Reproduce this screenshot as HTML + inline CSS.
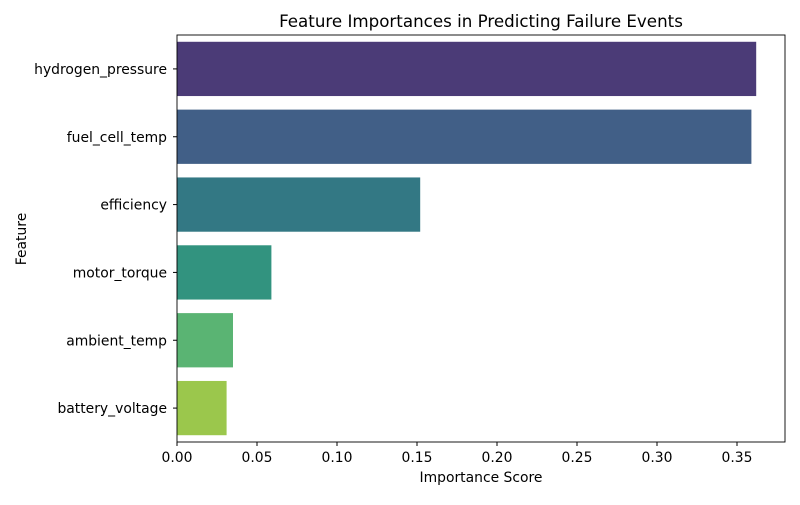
<!DOCTYPE html>
<html><head><meta charset="utf-8"><style>
body{margin:0;background:#fff;font-family:"Liberation Sans","DejaVu Sans",sans-serif;}
svg text{font-family:"DejaVu Sans","Liberation Sans",sans-serif;fill:#000;}
</style></head><body>
<svg id="chart" width="800" height="500" xmlns="http://www.w3.org/2000/svg">
<rect width="800" height="500" fill="#fff"/>
<text x="481" y="27" font-size="16.7" text-anchor="middle">Feature Importances in Predicting Failure Events</text>
<g id="bars"></g>
<g id="yticks"></g>
<g id="xticks"></g>
<rect x="177" y="35" width="608" height="407" fill="none" stroke="#000" stroke-width="0.9"/>
<text x="481" y="482" font-size="13.9" text-anchor="middle">Importance Score</text>
<text x="26" y="239" font-size="13.9" text-anchor="middle" transform="rotate(-90 26 239)">Feature</text>
</svg>
<script>
const features=["hydrogen_pressure","fuel_cell_temp","efficiency","motor_torque","ambient_temp","battery_voltage"];
const importances=[0.362,0.359,0.152,0.059,0.035,0.031];
const barColors=["#4b3b77","#415f87","#337884","#32937f","#5ab473","#9bc74c"];
const xTicks=[0,0.05,0.10,0.15,0.20,0.25,0.30,0.35];
const xTickLabels=["0.00","0.05","0.10","0.15","0.20","0.25","0.30","0.35"];
{
const NS="http://www.w3.org/2000/svg";
const x0=177,pxPerUnit=1600,plotTop=35,plotBottom=442;
const band=(plotBottom-plotTop)/features.length;
const xs=v=>x0+v*pxPerUnit;
const yc=i=>plotTop+band*(i+0.5);
const bars=document.getElementById('bars'),yt=document.getElementById('yticks'),xt=document.getElementById('xticks');
features.forEach((f,i)=>{
 const r=document.createElementNS(NS,'rect');
 r.setAttribute('x',xs(0));r.setAttribute('y',yc(i)-band*0.4);
 r.setAttribute('width',xs(importances[i])-xs(0));r.setAttribute('height',band*0.8);
 r.setAttribute('fill',barColors[i]);
 
 
 bars.appendChild(r);
 const l=document.createElementNS(NS,'line');
 l.setAttribute('x1',x0-4);l.setAttribute('x2',x0);l.setAttribute('y1',yc(i));l.setAttribute('y2',yc(i));l.setAttribute('stroke','#000');
 yt.appendChild(l);
 const t=document.createElementNS(NS,'text');
 t.setAttribute('x',x0-10);t.setAttribute('y',yc(i)+5);t.setAttribute('font-size','13.9');t.setAttribute('text-anchor','end');
 t.textContent=f;
 
 
 yt.appendChild(t);
});
xTicks.forEach((v,i)=>{
 const l=document.createElementNS(NS,'line');
 l.setAttribute('x1',xs(v));l.setAttribute('x2',xs(v));l.setAttribute('y1',plotBottom);l.setAttribute('y2',plotBottom+4);l.setAttribute('stroke','#000');
 xt.appendChild(l);
 const t=document.createElementNS(NS,'text');
 t.setAttribute('x',xs(v));t.setAttribute('y',plotBottom+20);t.setAttribute('font-size','13.9');t.setAttribute('text-anchor','middle');
 t.textContent=xTickLabels[i];
 
 
 xt.appendChild(t);
});
}
</script>
</body></html>
